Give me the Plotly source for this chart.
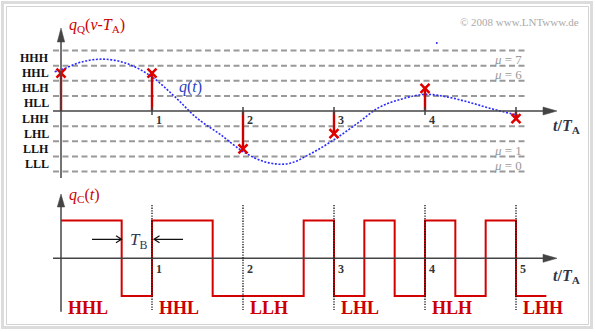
import plotly.graph_objects as go

# ---------------- data ----------------
level_names = ["HHH", "HHL", "HLH", "HLL", "LHH", "LHL", "LLH", "LLL"]
level_values = [3.5, 2.5, 1.5, 0.5, -0.5, -1.5, -2.5, -3.5]
boundaries = [4, 3, 2, 1, -1, -2, -3, -4]
mu_labels = ["μ = 7", "μ = 6", "μ = 1", "μ = 0"]
mu_values = [3.5, 2.5, -2.5, -3.5]

curve_t = [-0.07, 0, 0.25, 0.5, 0.75, 1, 1.25, 1.5, 1.75, 2, 2.25, 2.5, 2.75,
           3, 3.25, 3.5, 3.75, 4, 4.25, 4.5, 4.75, 5.02]
curve_q = [2.6, 2.72, 3.28, 3.42, 3.08, 2.25, 0.95, -0.5, -1.55, -2.68, -3.38,
           -3.48, -2.8, -1.9, -0.85, 0.25, 0.8, 1.1, 0.92, 0.55, 0.12, -0.28]
stray_t = [4.13]
stray_q = [4.5]

sample_t = [0, 1, 2, 3, 4, 5]
sample_q = [2.5, 2.5, -2.5, -1.5, 1.5, -0.5]
codewords = ["HHL", "HHL", "LLH", "LHL", "HLH", "LHH"]
bits_shown = 16

upper_ticks = [1, 2, 3, 4, 5]
upper_tick_labels = ["1", "2", "3", "4", ""]
lower_ticks = [1, 2, 3, 4, 5]
lower_tick_labels = ["1", "2", "3", "4", "5"]

# ---------------- geometry ----------------
W, H = 596, 332
X0, DX = 61, 91          # pixel of t=0, pixels per T_A
YU0, DYU = 111, 15.125   # upper zero line, pixels per quantisation step
YL0, DYL = 258.3, 37.7   # lower zero line, pixels per unit amplitude

xr = [(0 - X0) / DX, (W - X0) / DX]
yr1 = [(YU0 - H) / DYU, YU0 / DYU]
yr2 = [(YL0 - H) / DYL, YL0 / DYL]


def px(x):
    return x / W


def py(y):
    return 1 - y / H


def vy(v):
    """upper-axis value -> paper y"""
    return py(YU0 - DYU * v)


SERIF = "Liberation Serif, Times New Roman, serif"
RED = "#d40000"
AX = "#444444"

fig = go.Figure()

# blue analog curve
fig.add_trace(go.Scatter(x=curve_t, y=curve_q, mode="lines", yaxis="y",
                         line=dict(color="#2a2aff", width=1.6, dash="2px,1.6px",
                                   shape="spline", smoothing=1.0),
                         hoverinfo="skip"))
fig.add_trace(go.Scatter(x=stray_t, y=stray_q, mode="markers", yaxis="y",
                         marker=dict(color="#2a2aff", size=2), hoverinfo="skip"))

# stems
sx, sy = [], []
for t, q in zip(sample_t, sample_q):
    sx += [t, t, None]
    sy += [0, q, None]

# ---------------- shapes (decor) ----------------
shapes = []
# frame
shapes.append(dict(type="rect", xref="paper", yref="paper",
                   x0=px(2.5), x1=px(591.5), y0=py(2.5), y1=py(327.5),
                   line=dict(color="#dcdcdc", width=3)))
shapes.append(dict(type="rect", xref="paper", yref="paper",
                   x0=px(6.5), x1=px(588.5), y0=py(6.5), y1=py(324.5),
                   line=dict(color="#d2d2d2", width=1)))
# dashed level boundaries
for b in boundaries:
    shapes.append(dict(type="line", xref="x", yref="y",
                       x0=(53 - X0) / DX, x1=(527 - X0) / DX, y0=b, y1=b,
                       line=dict(color="#999999", width=2, dash="6px,3.5px"), layer="below"))
# upper x axis
shapes.append(dict(type="line", xref="paper", yref="paper",
                   x0=px(53), x1=px(545), y0=py(YU0), y1=py(YU0),
                   line=dict(color=AX, width=1.5)))
shapes.append(dict(type="path", xref="paper", yref="paper",
                   path=f"M{px(543)},{py(YU0-4)} L{px(557)},{py(YU0)} L{px(543)},{py(YU0+4)} Z",
                   fillcolor=AX, line=dict(color=AX, width=0.5)))
# upper y axis
shapes.append(dict(type="line", xref="paper", yref="paper",
                   x0=px(X0), x1=px(X0), y0=py(178), y1=py(41),
                   line=dict(color=AX, width=1.5)))
shapes.append(dict(type="path", xref="paper", yref="paper",
                   path=f"M{px(X0-3.7)},{py(42)} L{px(X0)},{py(28)} L{px(X0+3.7)},{py(42)} Z",
                   fillcolor=AX, line=dict(color=AX, width=0.5)))
# upper ticks
for t in upper_ticks:
    x = X0 + DX * t
    shapes.append(dict(type="line", xref="paper", yref="paper",
                       x0=px(x), x1=px(x), y0=py(YU0 - 4), y1=py(YU0 + 4),
                       line=dict(color=AX, width=1.5)))
# lower x axis
shapes.append(dict(type="line", xref="paper", yref="paper",
                   x0=px(53), x1=px(545), y0=py(YL0), y1=py(YL0),
                   line=dict(color=AX, width=1.5)))
shapes.append(dict(type="path", xref="paper", yref="paper",
                   path=f"M{px(543)},{py(YL0-4)} L{px(557)},{py(YL0)} L{px(543)},{py(YL0+4)} Z",
                   fillcolor=AX, line=dict(color=AX, width=0.5)))
# lower y axis
shapes.append(dict(type="line", xref="paper", yref="paper",
                   x0=px(X0), x1=px(X0), y0=py(311.7), y1=py(205),
                   line=dict(color=AX, width=1.5)))
shapes.append(dict(type="path", xref="paper", yref="paper",
                   path=f"M{px(X0-3.7)},{py(207)} L{px(X0)},{py(194)} L{px(X0+3.7)},{py(207)} Z",
                   fillcolor=AX, line=dict(color=AX, width=0.5)))
# dotted sample lines (lower)
for t in lower_ticks:
    x = X0 + DX * t
    shapes.append(dict(type="line", xref="paper", yref="paper",
                       x0=px(x), x1=px(x), y0=py(205), y1=py(310),
                       line=dict(color="#111111", width=1.3, dash="1.3px,1.3px")))
# T_B arrows
ya = 239.3
shapes.append(dict(type="path", xref="paper", yref="paper",
                   path=(f"M{px(92)},{py(ya)} L{px(121.5)},{py(ya)} "
                         f"M{px(116)},{py(ya-3.5)} L{px(121.5)},{py(ya)} L{px(116)},{py(ya+3.5)}"),
                   line=dict(color="#111111", width=1.2)))
shapes.append(dict(type="path", xref="paper", yref="paper",
                   path=(f"M{px(183)},{py(ya)} L{px(154)},{py(ya)} "
                         f"M{px(159.5)},{py(ya-3.5)} L{px(154)},{py(ya)} L{px(159.5)},{py(ya+3.5)}"),
                   line=dict(color="#111111", width=1.2)))

# stems and crosses
fig.add_trace(go.Scatter(x=sx, y=sy, mode="lines", yaxis="y",
                         line=dict(color="#cc0000", width=2.4), hoverinfo="skip"))
fig.add_trace(go.Scatter(x=sample_t, y=sample_q, mode="markers", yaxis="y",
                         marker=dict(symbol="x-thin", size=9,
                                     line=dict(color="#e00000", width=2.6)),
                         hoverinfo="skip"))

# binary signal q_C(t)
bits = [1 if c == "H" else -1 for w in codewords for c in w][:bits_shown]
bit_t = [k / 3 for k in range(bits_shown + 1)]
bit_y = bits + [bits[-1]]
fig.add_trace(go.Scatter(x=bit_t, y=bit_y, mode="lines", yaxis="y2",
                         line=dict(color=RED, width=2, shape="hv"), hoverinfo="skip"))

# ---------------- text ----------------
ann = []
for name, v in zip(level_names, level_values):
    ann.append(dict(text=f"<b>{name}</b>", xref="paper", x=px(51), xanchor="right",
                    yref="paper", y=vy(v), yanchor="middle",
                    font=dict(family=SERIF, size=12, color="#111111")))
for lab, v in zip(mu_labels, mu_values):
    t = lab.replace("μ", "<i>μ</i>")
    ann.append(dict(text=t, xref="paper", x=px(524), xanchor="right",
                    yref="paper", y=vy(v - 0.1), yanchor="middle",
                    font=dict(family=SERIF, size=13, color="#999999")))
for t, lab in zip(upper_ticks, upper_tick_labels):
    if lab:
        ann.append(dict(text=f"<b>{lab}</b>", xref="paper", x=px(X0 + DX * t + 2), xanchor="left",
                        yref="paper", y=py(119.5), yanchor="middle",
                        font=dict(family=SERIF, size=12, color="#333333")))
for t, lab in zip(lower_ticks, lower_tick_labels):
    ann.append(dict(text=f"<b>{lab}</b>", xref="paper", x=px(X0 + DX * t + 2), xanchor="left",
                    yref="paper", y=py(269), yanchor="middle",
                    font=dict(family=SERIF, size=12, color="#333333")))
for k, w in enumerate(codewords):
    ann.append(dict(text=f"<b>{w}</b>", xref="paper", x=px(X0 + DX * k + 5), xanchor="left",
                    yref="paper", y=py(308), yanchor="middle",
                    font=dict(family=SERIF, size=18, color="#cc0000")))

ann.append(dict(text="<i>q</i><sub>Q</sub>(<i>ν</i>-<i>T</i><sub>A</sub>)",
                xref="paper", x=px(67), xanchor="left", yref="paper", y=py(26), yanchor="middle",
                font=dict(family=SERIF, size=16, color="#cc0000")))
ann.append(dict(text="<i>q</i><sub>C</sub>(<i>t</i>)",
                xref="paper", x=px(67), xanchor="left", yref="paper", y=py(195), yanchor="middle",
                font=dict(family=SERIF, size=16, color="#cc0000")))
ann.append(dict(text="<i>q</i>(<i>t</i>)",
                xref="paper", x=px(177), xanchor="left", yref="paper", y=py(87), yanchor="middle",
                font=dict(family=SERIF, size=16, color="#2a3fc0")))
ann.append(dict(text="<i>T</i><sub>B</sub>",
                xref="paper", x=px(128), xanchor="left", yref="paper", y=py(241), yanchor="middle",
                font=dict(family=SERIF, size=17, color="#333355")))
for yy in (126, 276):
    ann.append(dict(text="<i><b>t</b></i><b>/</b><i><b>T</b></i><sub><b>A</b></sub>",
                    xref="paper", x=px(551), xanchor="left", yref="paper", y=py(yy), yanchor="middle",
                    font=dict(family=SERIF, size=16, color="#333344")))
ann.append(dict(text="© 2008 www.LNTwww.de",
                xref="paper", x=px(581), xanchor="right", yref="paper", y=py(21.5), yanchor="middle",
                font=dict(family=SERIF, size=11, color="#aaaaaa")))

for a in ann:
    a["showarrow"] = False

fig.update_layout(
    width=W, height=H, autosize=False,
    margin=dict(l=0, r=0, t=0, b=0, pad=0),
    paper_bgcolor="white", plot_bgcolor="white",
    showlegend=False,
    xaxis=dict(range=xr, visible=False, fixedrange=True),
    yaxis=dict(range=yr1, visible=False, fixedrange=True),
    yaxis2=dict(range=yr2, visible=False, overlaying="y", fixedrange=True),
    shapes=shapes, annotations=ann,
)

fig.write_html("out.html", config={"displayModeBar": False})
